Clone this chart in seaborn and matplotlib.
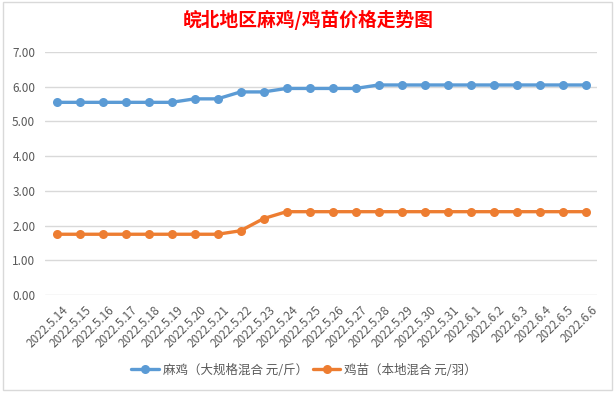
import pandas as pd
import matplotlib.pyplot as plt
import matplotlib.transforms as mtrans
import seaborn as sns
from matplotlib.patches import Rectangle

# データ
dates = ['2022.5.14', '2022.5.15', '2022.5.16', '2022.5.17', '2022.5.18', '2022.5.19',
         '2022.5.20', '2022.5.21', '2022.5.22', '2022.5.23', '2022.5.24', '2022.5.25',
         '2022.5.26', '2022.5.27', '2022.5.28', '2022.5.29', '2022.5.30', '2022.5.31',
         '2022.6.1', '2022.6.2', '2022.6.3', '2022.6.4', '2022.6.5', '2022.6.6']
maji = [5.55, 5.55, 5.55, 5.55, 5.55, 5.55, 5.65, 5.65, 5.85, 5.85, 5.95, 5.95,
        5.95, 5.95, 6.05, 6.05, 6.05, 6.05, 6.05, 6.05, 6.05, 6.05, 6.05, 6.05]
jimiao = [1.75, 1.75, 1.75, 1.75, 1.75, 1.75, 1.75, 1.75, 1.85, 2.2, 2.4, 2.4,
          2.4, 2.4, 2.4, 2.4, 2.4, 2.4, 2.4, 2.4, 2.4, 2.4, 2.4, 2.4]
series_names = ['麻鸡（大规格混合 元/斤）', '鸡苗（本地混合 元/羽）']
colors = ['#5B9BD5', '#ED7D31']

df = pd.DataFrame({
    'x': list(range(len(dates))) * 2,
    'price': maji + jimiao,
    'series': [series_names[0]] * len(dates) + [series_names[1]] * len(dates),
})

sns.set_style('white')
plt.rcParams['font.family'] = ['Noto Sans CJK SC', 'DejaVu Sans']

fig = plt.figure(figsize=(6.15, 3.93), dpi=100)
ax = fig.add_axes([45 / 615, 98 / 393, 552 / 615, 243 / 393])

sns.lineplot(data=df, x='x', y='price', hue='series', palette=colors,
             marker='o', markersize=6.5, markeredgewidth=0, linewidth=2.4, ax=ax)

ax.set_xlim(-0.5, len(dates) - 0.5)
ax.set_ylim(0, 7)
ax.set_yticks([i for i in range(8)])
ax.set_yticklabels([f'{i:.2f}' for i in range(8)], fontsize=8.5, color='#595959')
ax.set_xticks(range(len(dates)))
ax.set_xticklabels(dates, rotation=45, ha='right', rotation_mode='anchor',
                   fontsize=8.5, color='#595959')
ax.tick_params(axis='y', length=0, pad=7)
ax.tick_params(axis='x', length=0, pad=6)
# ラベルを少し右へずらす
shift = mtrans.ScaledTranslation(5 / 100, 0, fig.dpi_scale_trans)
for lbl in ax.get_xticklabels():
    lbl.set_transform(lbl.get_transform() + shift)
ax.grid(axis='y', color='#D9D9D9', linewidth=1)
ax.set_axisbelow(True)
for s in ax.spines.values():
    s.set_visible(False)
ax.set_xlabel('')
ax.set_ylabel('')

ax.legend(loc='center', bbox_to_anchor=(304 / 615, 23 / 393), bbox_transform=fig.transFigure,
          ncol=2, frameon=False, fontsize=9, labelcolor='#595959',
          handlelength=2.2, handletextpad=0.3, columnspacing=0.4)

fig.text(308 / 615, 1 - 20 / 393, '皖北地区麻鸡/鸡苗价格走势图', ha='center', va='center',
         color='#FF0000', fontsize=13.5, fontweight='bold')

# グラフ枠
fig.patches.append(Rectangle((3 / 615, 3 / 393), 609 / 615, 388 / 393,
                             transform=fig.transFigure, fill=False,
                             edgecolor='#D9D9D9', linewidth=1))

fig.savefig('out.png', dpi=100)
